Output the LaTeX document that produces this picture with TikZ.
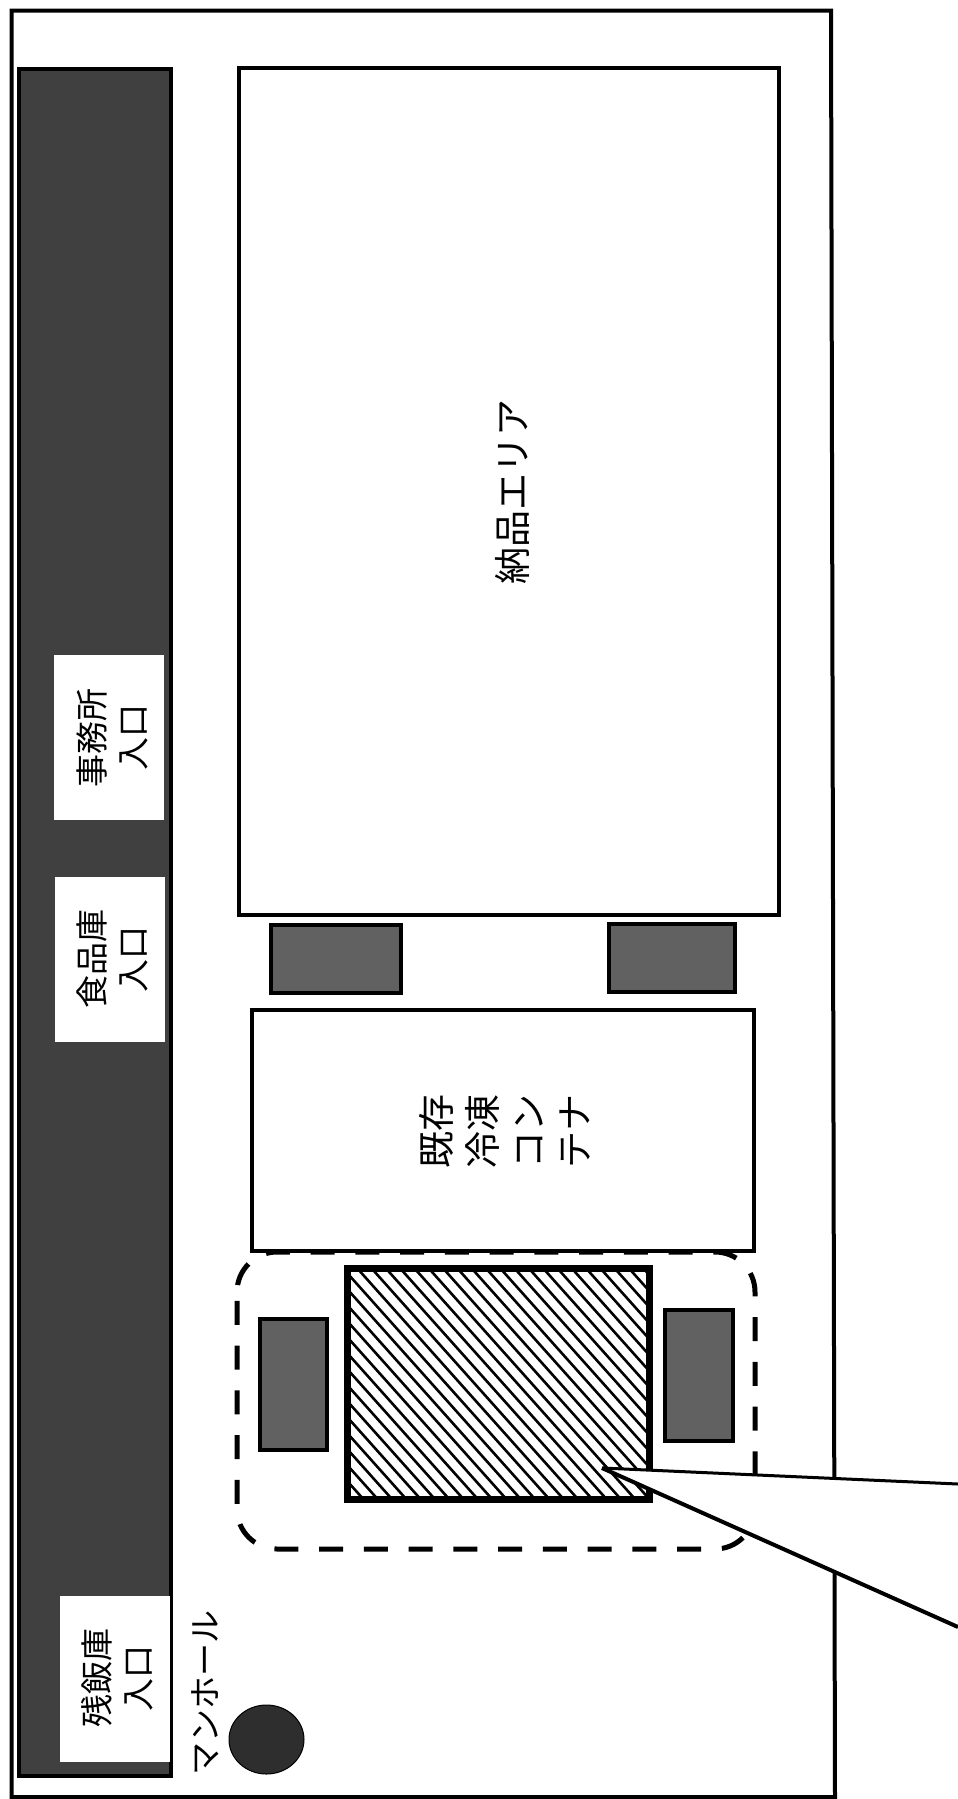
\documentclass[tikz,border=0pt]{standalone}
\usepackage{fontspec}
\setmainfont{Noto Sans CJK JP}
\usepackage{xcolor}
\usetikzlibrary{shapes.geometric}

\begin{document}
\begin{tikzpicture}[
x=1pt, y=-1pt,
area/.style={draw=black, line width=4.5pt, fill=white, inner sep=0pt, outer sep=0pt},
darkbox/.style={draw=black, line width=4pt, fill=black!62, inner sep=0pt, outer sep=0pt},
entrybox/.style={fill=white, inner sep=0pt, outer sep=0pt},
vtext/.style={rotate=90, align=center, inner sep=0pt, font=\fontsize{33}{41}\selectfont},
wide/.style={rotate=90, align=center, inner sep=0pt, font=\fontsize{37}{46}\selectfont},
hatchline/.style={black, line width=2.6pt},
callout/.style={black, line width=3pt}
]

\useasboundingbox (0,0) rectangle (958,1799);

% site
\draw[black, line width=4pt] (11.5,10.5) -- (831,10.5) -- (835,1797) -- (11.5,1797) -- cycle;

% building along the left side
\node[darkbox, fill=black!75, line width=4.5pt, minimum width=152pt, minimum height=1707pt] (building) at (95,922.5) {};
\node[entrybox, minimum width=110pt, minimum height=165pt] (officebox) at (109,737.5) {};
\node[entrybox, minimum width=110pt, minimum height=165pt] (pantrybox) at (110,959.5) {};
\node[entrybox, minimum width=110pt, minimum height=166.5pt] (wastebox) at (115,1679) {};
\node[vtext] (office) at (112.5,737.5) {事務所\\入口};
\node[vtext] (pantry) at (112.5,959) {食品庫\\入口};
\node[vtext] (waste) at (117.5,1678) {残飯庫\\入口};

% delivery area
\node[area, minimum width=540pt, minimum height=847pt] (delivery) at (509,491.5) {};
\node[wide] (deliverytext) at (512,491.5) {納品エリア};

% new unit
\draw[black, line width=5pt, dash pattern=on 24pt off 20.75pt, dash phase=36pt, rounded corners=40pt] (237,1292) -- (237,1549) -- (755,1549) -- (755,1252) -- (237,1252) -- (237,1292);

% freezer container
\node[area, minimum width=502pt, minimum height=241pt] (freezer) at (503,1130.5) {};
\node[wide] (freezertext) at (505,1131) {既存\\冷凍\\コン\\テナ};

\node[darkbox, minimum width=130pt, minimum height=68pt] (padA) at (336,959) {};
\node[darkbox, minimum width=126pt, minimum height=68pt] (padB) at (672,958) {};
\node[darkbox, minimum width=67pt, minimum height=131pt] (padC) at (293.5,1384) {};
\node[darkbox, minimum width=68pt, minimum height=131pt] (padD) at (699,1375.5) {};

% hatched unit
\node[area, line width=7pt, minimum width=302pt, minimum height=231pt] (unit) at (498,1383.5) {};
\begin{scope}
\clip (unit.south west) rectangle (unit.north east);
\foreach \c in {897,913,...,1505}
  \draw[hatchline] (340,\c) -- (660,\c+358);
\end{scope}

% manhole
\node[ellipse, draw=black, fill=black!82, line width=1pt, inner sep=0pt, minimum width=75pt, minimum height=69pt] (hole) at (266.5,1739.5) {};
\node[vtext] (manhole) at (205,1693) {マンホール};

% callout
\coordinate (tip) at (602,1468);
\coordinate (calloutA) at (958,1484);
\coordinate (calloutB) at (958,1627);
\fill[white] (tip) -- (calloutA) -- (calloutB) -- cycle;
\draw[callout] (tip) -- (calloutA);
\draw[callout, line width=4pt] (tip) -- (calloutB);

\end{tikzpicture}
\end{document}
